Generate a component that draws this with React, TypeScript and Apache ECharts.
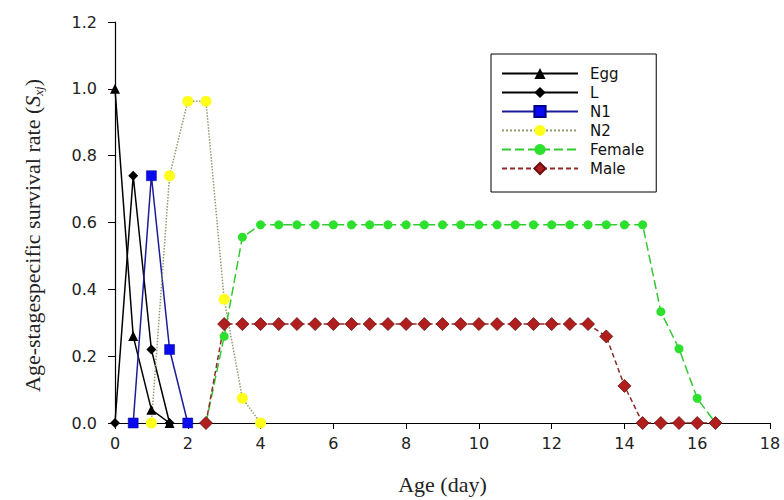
import React, { useEffect, useRef } from "react";
import * as echarts from "echarts";

const eggAge = [0, 0.5, 1, 1.5];
const eggVal = [1.0, 0.26, 0.04, 0];

const lAge = [0, 0.5, 1, 1.5];
const lVal = [0, 0.74, 0.22, 0];

const n1Age = [0.5, 1, 1.5, 2];
const n1Val = [0, 0.74, 0.22, 0];

const n2Age = [1, 1.5, 2, 2.5, 3, 3.5, 4];
const n2Val = [0, 0.74, 0.963, 0.963, 0.37, 0.074, 0];

const femaleAge = [
  2.5, 3, 3.5, 4, 4.5, 5, 5.5, 6, 6.5, 7, 7.5, 8, 8.5, 9, 9.5, 10, 10.5, 11,
  11.5, 12, 12.5, 13, 13.5, 14, 14.5, 15, 15.5, 16, 16.5,
];
const femaleVal = [
  0, 0.259, 0.556, 0.593, 0.593, 0.593, 0.593, 0.593, 0.593, 0.593, 0.593,
  0.593, 0.593, 0.593, 0.593, 0.593, 0.593, 0.593, 0.593, 0.593, 0.593, 0.593,
  0.593, 0.593, 0.593, 0.333, 0.222, 0.074, 0,
];

const maleAge = [
  2.5, 3, 3.5, 4, 4.5, 5, 5.5, 6, 6.5, 7, 7.5, 8, 8.5, 9, 9.5, 10, 10.5, 11,
  11.5, 12, 12.5, 13, 13.5, 14, 14.5, 15, 15.5, 16, 16.5,
];
const maleVal = [
  0, 0.296, 0.296, 0.296, 0.296, 0.296, 0.296, 0.296, 0.296, 0.296, 0.296,
  0.296, 0.296, 0.296, 0.296, 0.296, 0.296, 0.296, 0.296, 0.296, 0.296, 0.296,
  0.259, 0.111, 0, 0, 0, 0, 0,
];

const seriesNames = ["Egg", "L", "N1", "N2", "Female", "Male"];

const zip = (a: number[], b: number[]) => a.map((x, i) => [x, b[i]]);

export default function App() {
  const ref = useRef<HTMLDivElement>(null);
  useEffect(() => {
    if (!ref.current) return;
    const chart = echarts.init(ref.current, null, { renderer: "svg" });
    const sans = "DejaVu Sans";
    const serif = "Liberation Serif";
    chart.setOption({
      animation: false,
      backgroundColor: "#ffffff",
      grid: { left: 115, right: 14, top: 22, bottom: 77 },
      legend: {
        orient: "vertical",
        left: 491,
        top: 54,
        padding: [12, 12, 16, 10],
        borderColor: "#000",
        borderWidth: 1,
        itemWidth: 76,
        itemHeight: 14,
        itemGap: 4,
        textStyle: {
          fontFamily: sans,
          fontSize: 15,
          color: "#111",
          lineHeight: 15,
          padding: [0, 0, 0, 7],
        },
        data: seriesNames,
      },
      xAxis: {
        type: "value",
        min: 0,
        max: 18,
        interval: 2,
        name: "Age (day)",
        nameLocation: "middle",
        nameGap: 50,
        nameTextStyle: { fontFamily: serif, fontSize: 22, color: "#222" },
        axisLine: { lineStyle: { color: "#000", width: 1.2 } },
        axisTick: { inside: false, length: 6, lineStyle: { color: "#000" } },
        axisLabel: {
          fontFamily: sans,
          fontSize: 16,
          color: "#222",
          margin: 12,
        },
        splitLine: { show: false },
      },
      yAxis: {
        type: "value",
        min: 0,
        max: 1.2,
        interval: 0.2,
        name: "{n|Age-stagespecific survival rate (}{i|S}{s|xj}{n|)}",
        nameLocation: "middle",
        nameGap: 70,
        nameRotate: 90,
        nameTextStyle: {
          fontFamily: serif,
          fontSize: 22,
          color: "#222",
          padding: [0, 26, 0, 0],
          rich: {
            n: { fontFamily: serif, fontSize: 22, lineHeight: 26, color: "#222" },
            i: {
              fontFamily: serif,
              fontSize: 22,
              lineHeight: 26,
              fontStyle: "italic",
              color: "#222",
            },
            s: {
              fontFamily: serif,
              fontSize: 13,
              lineHeight: 13,
              fontStyle: "italic",
              verticalAlign: "bottom",
              color: "#222",
            },
          },
        },
        axisLine: { show: true, lineStyle: { color: "#000", width: 1.2 } },
        axisTick: { show: true, inside: false, length: 7, lineStyle: { color: "#000" } },
        axisLabel: {
          fontFamily: sans,
          fontSize: 16,
          color: "#222",
          margin: 18,
          formatter: (v: number) => v.toFixed(1),
        },
        splitLine: { show: false },
      },
      series: [
        {
          name: "Egg",
          type: "line",
          data: zip(eggAge, eggVal),
          symbol: "triangle",
          symbolSize: 10,
          itemStyle: { color: "#000" },
          lineStyle: { color: "#000", width: 1.5 },
        },
        {
          name: "L",
          type: "line",
          data: zip(lAge, lVal),
          symbol: "diamond",
          symbolSize: 10,
          itemStyle: { color: "#000" },
          lineStyle: { color: "#000", width: 1.5 },
        },
        {
          name: "N1",
          type: "line",
          data: zip(n1Age, n1Val),
          symbol: "rect",
          symbolSize: 10,
          itemStyle: { color: "#0a0af0", borderColor: "#00008a", borderWidth: 0.5 },
          lineStyle: { color: "#1c1c9a", width: 1.5 },
        },
        {
          name: "N2",
          type: "line",
          data: zip(n2Age, n2Val),
          symbol: "circle",
          symbolSize: 11,
          itemStyle: { color: "#ffff1a" },
          lineStyle: { color: "#8f9c6c", width: 1.5, type: "dotted" },
        },
        {
          name: "Female",
          type: "line",
          data: zip(femaleAge, femaleVal),
          symbol: "circle",
          symbolSize: 9,
          itemStyle: { color: "#2ee02e" },
          lineStyle: { color: "#33c933", width: 1.5, type: [9, 4] },
        },
        {
          name: "Male",
          type: "line",
          data: zip(maleAge, maleVal),
          symbol: "diamond",
          symbolSize: 13,
          itemStyle: { color: "#b01e1e", borderColor: "#6a0f0f", borderWidth: 0.8 },
          lineStyle: { color: "#8f2a2a", width: 1.5, type: [5, 3] },
        },
      ],
    });
    return () => chart.dispose();
  }, []);
  return (
    <div
      ref={ref}
      style={{ position: "fixed", left: 0, top: 0, width: 784, height: 500 }}
    />
  );
}
